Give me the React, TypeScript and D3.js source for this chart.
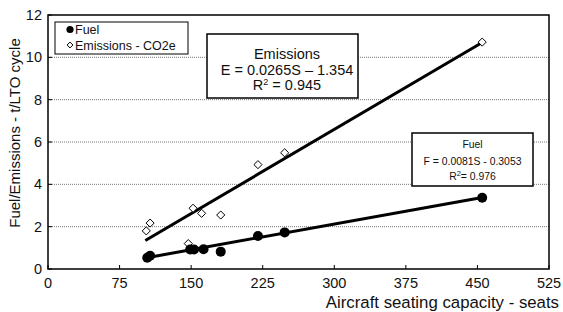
import { useEffect, useRef } from "react";
import * as d3 from "d3";

// seats vs t per LTO cycle
const fuelSeats = [104, 107, 149, 153, 163, 181, 220, 248, 455];
const fuelValues = [0.53, 0.63, 0.92, 0.92, 0.93, 0.82, 1.56, 1.73, 3.37];
const emisSeats = [103, 107, 147, 152, 161, 181, 220, 248, 455];
const emisValues = [1.8, 2.17, 1.2, 2.87, 2.63, 2.55, 4.93, 5.49, 10.72];

// regression lines as printed in the boxes (slope, intercept) and seat range covered
const fuelFit = [0.0081, -0.3053];
const emisFit = [0.0265, -1.354];
const fitRange = [102, 455];

const xTicks = [0, 75, 150, 225, 300, 375, 450, 525];
const yTicks = [0, 2, 4, 6, 8, 10, 12];

const FONT = "'Liberation Sans', Arial, Helvetica, sans-serif";

const App = () => {
  const svgRef = useRef<SVGSVGElement>(null);

  useEffect(() => {
    if (!svgRef.current) return;
    const svg = d3.select(svgRef.current);
    svg.selectAll("*").remove();

    const width = 563;
    const height = 312;
    const left = 48, right = 549, top = 15, bottom = 269;

    const x = d3.scaleLinear().domain([0, 525]).range([left, right]);
    const y = d3.scaleLinear().domain([0, 12]).range([bottom, top]);

    svg.append("rect").attr("width", width).attr("height", height).attr("fill", "#fff");

    // dotted grid
    svg.append("g")
      .selectAll("line")
      .data(yTicks.filter((t) => t > 0 && t < 12))
      .enter()
      .append("line")
      .attr("x1", left)
      .attr("x2", right)
      .attr("y1", (d) => y(d))
      .attr("y2", (d) => y(d))
      .attr("stroke", "#777")
      .attr("stroke-width", 1)
      .attr("stroke-dasharray", "1,1");

    // frame
    svg.append("rect")
      .attr("x", left)
      .attr("y", top)
      .attr("width", right - left)
      .attr("height", bottom - top)
      .attr("fill", "none")
      .attr("stroke", "#000")
      .attr("stroke-width", 1.5);

    // x ticks + labels
    const xg = svg.append("g");
    xTicks.forEach((t) => {
      xg.append("line")
        .attr("x1", x(t)).attr("x2", x(t))
        .attr("y1", bottom).attr("y2", bottom - 4)
        .attr("stroke", "#000").attr("stroke-width", 1);
      xg.append("text")
        .attr("x", x(t)).attr("y", bottom + 19)
        .attr("text-anchor", "middle")
        .attr("font-family", FONT).attr("font-size", 14.5)
        .attr("fill", "#111")
        .text(t);
    });

    // y ticks + labels
    const yg = svg.append("g");
    yTicks.forEach((t) => {
      yg.append("line")
        .attr("x1", left).attr("x2", left + 4)
        .attr("y1", y(t)).attr("y2", y(t))
        .attr("stroke", "#000").attr("stroke-width", 1);
      yg.append("text")
        .attr("x", left - 6).attr("y", y(t))
        .attr("dy", "0.35em")
        .attr("text-anchor", "end")
        .attr("font-family", FONT).attr("font-size", 14.5)
        .attr("fill", "#111")
        .text(t);
    });

    // axis titles
    svg.append("text")
      .attr("x", 559)
      .attr("y", 308)
      .attr("text-anchor", "end")
      .attr("font-family", FONT).attr("font-size", 16.8)
      .attr("fill", "#111")
      .text("Aircraft seating capacity - seats");

    svg.append("text")
      .attr("transform", `translate(20,133) rotate(-90)`)
      .attr("text-anchor", "middle")
      .attr("font-family", FONT).attr("font-size", 15)
      .attr("fill", "#111")
      .text("Fuel/Emissions - t/LTO cycle");

    // trend lines from the fitted equations
    const line = d3.line<[number, number]>()
      .x((d) => x(d[0]))
      .y((d) => y(d[1]));
    const trends = [fuelFit, emisFit].map((f) =>
      fitRange.map((s) => [s, f[0] * s + f[1]] as [number, number])
    );
    svg.append("g")
      .selectAll("path")
      .data(trends)
      .enter()
      .append("path")
      .attr("d", (d) => line(d))
      .attr("fill", "none")
      .attr("stroke", "#000")
      .attr("stroke-width", 3);

    // markers
    const diamond = d3.symbol().type(d3.symbolDiamond2).size(42);
    svg.append("g")
      .selectAll("path")
      .data(emisSeats.map((s, i) => [s, emisValues[i]]))
      .enter()
      .append("path")
      .attr("d", diamond() as string)
      .attr("transform", (d) => `translate(${x(d[0])},${y(d[1])})`)
      .attr("fill", "#fff")
      .attr("stroke", "#000")
      .attr("stroke-width", 1);

    svg.append("g")
      .selectAll("circle")
      .data(fuelSeats.map((s, i) => [s, fuelValues[i]]))
      .enter()
      .append("circle")
      .attr("cx", (d) => x(d[0]))
      .attr("cy", (d) => y(d[1]))
      .attr("r", 5)
      .attr("fill", "#000");

    // legend
    const lg = svg.append("g");
    lg.append("rect")
      .attr("x", 55).attr("y", 22).attr("width", 133).attr("height", 32)
      .attr("fill", "#fff").attr("stroke", "#000").attr("stroke-width", 1);
    lg.append("circle").attr("cx", 70).attr("cy", 29.5).attr("r", 3.6).attr("fill", "#000");
    lg.append("path")
      .attr("d", d3.symbol().type(d3.symbolDiamond2).size(22)() as string)
      .attr("transform", "translate(70,45)")
      .attr("fill", "#fff").attr("stroke", "#000").attr("stroke-width", 1);
    lg.append("text").attr("x", 75).attr("y", 34)
      .attr("font-family", FONT).attr("font-size", 12.5).attr("fill", "#111").text("Fuel");
    lg.append("text").attr("x", 75).attr("y", 49.5)
      .attr("font-family", FONT).attr("font-size", 12.5).attr("fill", "#111").text("Emissions - CO2e");

    // emissions equation box
    const eb = svg.append("g");
    eb.append("rect")
      .attr("x", 207).attr("y", 34).attr("width", 151).attr("height", 64)
      .attr("fill", "#fff").attr("stroke", "#000").attr("stroke-width", 1.5);
    const ebx = 287;
    eb.append("text").attr("x", ebx).attr("y", 58.5).attr("text-anchor", "middle")
      .attr("font-family", FONT).attr("font-size", 14.5).attr("fill", "#111").text("Emissions");
    eb.append("text").attr("x", ebx).attr("y", 74.5).attr("text-anchor", "middle")
      .attr("font-family", FONT).attr("font-size", 14.5).attr("fill", "#111").text("E = 0.0265S \u2013 1.354");
    const r1 = eb.append("text").attr("x", ebx).attr("y", 90).attr("text-anchor", "middle")
      .attr("font-family", FONT).attr("font-size", 14.5).attr("fill", "#111");
    r1.append("tspan").text("R");
    r1.append("tspan").attr("dy", -5).attr("font-size", 9).text("2");
    r1.append("tspan").attr("dy", 5).text(" = 0.945");

    // fuel equation box
    const fb = svg.append("g");
    fb.append("rect")
      .attr("x", 412).attr("y", 133).attr("width", 121).attr("height", 53)
      .attr("fill", "#fff").attr("stroke", "#000").attr("stroke-width", 1.5);
    const fbx = 472.5;
    fb.append("text").attr("x", fbx).attr("y", 148).attr("text-anchor", "middle")
      .attr("font-family", FONT).attr("font-size", 10.4).attr("fill", "#111").text("Fuel");
    fb.append("text").attr("x", fbx).attr("y", 164.5).attr("text-anchor", "middle")
      .attr("font-family", FONT).attr("font-size", 10.4).attr("fill", "#111").text("F = 0.0081S - 0.3053");
    const r2 = fb.append("text").attr("x", fbx).attr("y", 179.5).attr("text-anchor", "middle")
      .attr("font-family", FONT).attr("font-size", 10.4).attr("fill", "#111");
    r2.append("tspan").text("R");
    r2.append("tspan").attr("dy", -4).attr("font-size", 7.5).text("2");
    r2.append("tspan").attr("dy", 4).text("= 0.976");
  }, []);

  return (
    <svg
      ref={svgRef}
      width={563}
      height={312}
      style={{ position: "absolute", left: 0, top: 0, display: "block" }}
    />
  );
};

export default App;
